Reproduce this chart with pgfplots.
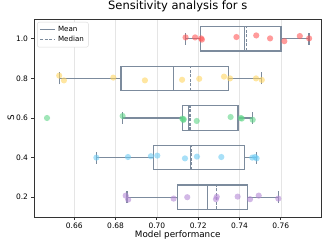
\documentclass[border=0pt]{standalone}
\usepackage{fontspec}
\setmainfont{DejaVu Sans}
\usepackage{pgfplots}
\pgfplotsset{compat=1.18}
\usepgfplotslibrary{statistics}
\definecolor{slate}{RGB}{124,139,157}
\definecolor{cRed}{RGB}{255,88,88}
\definecolor{cYel}{RGB}{255,213,97}
\definecolor{cGrn}{RGB}{97,213,137}
\definecolor{cBlu}{RGB}{110,203,243}
\definecolor{cPur}{RGB}{180,137,213}
\pgfplotsset{
  pts/.style={only marks, mark=*, mark size=3.1bp, color=#1,
    mark options={draw opacity=0, fill opacity=0.6}, forget plot},
  bx/.style={slate, line width=1.25bp, forget plot},
}
\begin{document}
\begin{tikzpicture}
\path[use as bounding box] (-34bp,-30bp) rectangle (295bp,217bp);
\begin{axis}[
  scale only axis, width=287.5bp, height=198bp,
  xmin=0.6405, xmax=0.7797, ymin=0.1, ymax=1.1,
  xtick={0.66,0.68,0.70,0.72,0.74,0.76},
  ytick={0.2,0.4,0.6,0.8,1.0},
  xticklabel style={/pgf/number format/.cd, fixed, fixed zerofill, precision=2},
  yticklabel style={/pgf/number format/.cd, fixed, fixed zerofill, precision=1},
  /pgf/number format/assume math mode=true,
  ticklabel style={font=\fontsize{7.5bp}{9bp}\selectfont},
  tick align=outside, tick pos=left, major tick length=2.5bp,
  tick style={black!80, line width=0.8bp},
  axis line style={black!80, line width=0.9bp},
  xmajorgrids, grid style={black!10, line width=0.6bp},
  title={Sensitivity analysis for s},
  title style={font=\fontsize{11.5bp}{13bp}\selectfont, at={(axis description cs:0.5,1)}, anchor=base, yshift=3.5bp},
  xlabel={Model performance}, ylabel={S},
  xlabel style={font=\fontsize{8.8bp}{10bp}\selectfont, at={(axis description cs:0.5,-0.091)}, anchor=center},
  ylabel style={font=\fontsize{8.8bp}{10bp}\selectfont, at={(axis description cs:-0.08,0.5)}, anchor=center},
  legend style={at={(axis description cs:0.011,0.985)}, anchor=north west,
    draw=black!15, rounded corners=2bp, font=\fontsize{7.1bp}{8.5bp}\selectfont,
    inner xsep=2.5bp, inner ysep=2bp, row sep=-0.5bp},
  legend cell align=left,
  legend image code/.code={\draw[#1, line width=1.2bp] (0bp,0bp) -- (15bp,0bp);},
]
% points
\addplot[pts=cRed] coordinates {(0.7139,1.007) (0.7185,1.007) (0.7214,1.002) (0.7218,0.996) (0.7385,1.009) (0.7481,1.017) (0.7548,1.002) (0.7617,0.988) (0.7692,1.014) (0.7737,1.002)};
\addplot[pts=cYel] coordinates {(0.6527,0.814) (0.6550,0.790) (0.6789,0.804) (0.6942,0.790) (0.7122,0.793) (0.7205,0.798) (0.7325,0.809) (0.7354,0.800) (0.7480,0.800) (0.7508,0.792)};
\addplot[pts=cGrn] coordinates {(0.6468,0.600) (0.6834,0.610) (0.7123,0.597) (0.7128,0.590) (0.7130,0.594) (0.7193,0.585) (0.7357,0.605) (0.7406,0.600) (0.7411,0.597) (0.7464,0.591)};
\addplot[pts=cBlu] coordinates {(0.6707,0.400) (0.6860,0.403) (0.6971,0.407) (0.7002,0.410) (0.7136,0.396) (0.7194,0.405) (0.7312,0.403) (0.7462,0.400) (0.7475,0.403) (0.7483,0.396)};
\addplot[pts=cPur] coordinates {(0.6849,0.208) (0.6861,0.188) (0.7081,0.193) (0.7147,0.200) (0.7286,0.190) (0.7290,0.202) (0.7391,0.203) (0.7451,0.190) (0.7493,0.208) (0.7588,0.193)};
% boxes
\addplot[bx, boxplot prepared={draw direction=x, draw position=1.0, lower whisker=0.7139, lower quartile=0.7212, median=0.7435, upper quartile=0.7601, upper whisker=0.7737, box extend=0.123, whisker extend=0.06, every median/.style={dash pattern=on 3bp off 1.5bp}}] coordinates {};
\addplot[bx, boxplot prepared={draw direction=x, draw position=0.8, lower whisker=0.6527, lower quartile=0.6826, median=0.7164, upper quartile=0.7348, upper whisker=0.7508, box extend=0.123, whisker extend=0.06, every median/.style={dash pattern=on 3bp off 1.5bp}}] coordinates {};
\addplot[bx, boxplot prepared={draw direction=x, draw position=0.6, lower whisker=0.6834, lower quartile=0.7123, median=0.7160, upper quartile=0.7393, upper whisker=0.7464, box extend=0.123, whisker extend=0.06, every median/.style={dash pattern=on 3bp off 1.5bp}}] coordinates {};
\addplot[bx, boxplot prepared={draw direction=x, draw position=0.4, lower whisker=0.6707, lower quartile=0.6982, median=0.7168, upper quartile=0.7425, upper whisker=0.7483, box extend=0.123, whisker extend=0.06, every median/.style={dash pattern=on 3bp off 1.5bp}}] coordinates {};
\addplot[bx, boxplot prepared={draw direction=x, draw position=0.2, lower whisker=0.6855, lower quartile=0.7099, median=0.7288, upper quartile=0.7438, upper whisker=0.7589, box extend=0.123, whisker extend=0.06, every median/.style={dash pattern=on 3bp off 1.5bp}}] coordinates {};
% means
\addplot[bx] coordinates {(0.7423,0.94) (0.7423,1.06)};
\addplot[bx] coordinates {(0.7079,0.74) (0.7079,0.86)};
\addplot[bx] coordinates {(0.7152,0.54) (0.7152,0.66)};
\addplot[bx] coordinates {(0.7162,0.34) (0.7162,0.46)};
\addplot[bx] coordinates {(0.7246,0.14) (0.7246,0.26)};
\addlegendimage{slate}
\addlegendentry{Mean}
\addlegendimage{slate, dash pattern=on 3bp off 1.5bp}
\addlegendentry{Median}
\end{axis}
\end{tikzpicture}
\end{document}
